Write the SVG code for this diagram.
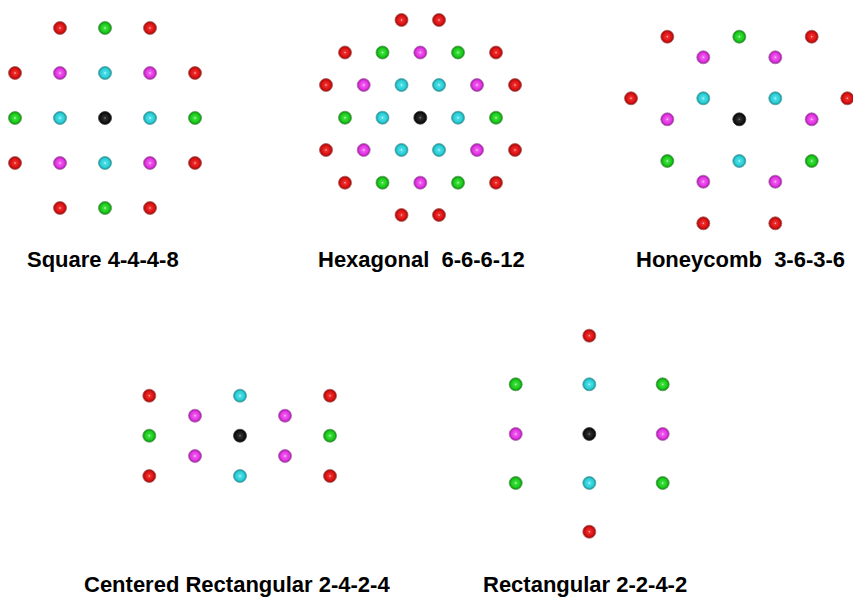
<svg xmlns="http://www.w3.org/2000/svg" xmlns:xlink="http://www.w3.org/1999/xlink" width="853" height="599" viewBox="0 0 853 599">
<style>
text{font-family:"Liberation Sans",Arial,sans-serif;font-weight:bold;font-size:22px;fill:#000}
.ball{stroke-width:0.8}
</style>
<defs>
<radialGradient id="gR" cx="50%" cy="50%" r="50%"><stop offset="0" stop-color="#ffd0d0"/><stop offset="0.18" stop-color="#f03030"/><stop offset="0.7" stop-color="#d81010"/><stop offset="1" stop-color="#8a0808"/></radialGradient>
<radialGradient id="gG" cx="50%" cy="50%" r="50%"><stop offset="0" stop-color="#e0ffe0"/><stop offset="0.18" stop-color="#40e040"/><stop offset="0.7" stop-color="#18c818"/><stop offset="1" stop-color="#0a7a0a"/></radialGradient>
<radialGradient id="gM" cx="50%" cy="50%" r="50%"><stop offset="0" stop-color="#ffe0ff"/><stop offset="0.18" stop-color="#f060f0"/><stop offset="0.7" stop-color="#e030e0"/><stop offset="1" stop-color="#901890"/></radialGradient>
<radialGradient id="gC" cx="50%" cy="50%" r="50%"><stop offset="0" stop-color="#e0ffff"/><stop offset="0.18" stop-color="#50e0e8"/><stop offset="0.7" stop-color="#28ccd4"/><stop offset="1" stop-color="#12848a"/></radialGradient>
<radialGradient id="gK" cx="50%" cy="50%" r="50%"><stop offset="0" stop-color="#909090"/><stop offset="0.18" stop-color="#303030"/><stop offset="0.7" stop-color="#141414"/><stop offset="1" stop-color="#000"/></radialGradient>
<circle id="R" class="ball" r="6.5" fill="url(#gR)" stroke="#b06060"/>
<circle id="G" class="ball" r="6.5" fill="url(#gG)" stroke="#60a060"/>
<circle id="M" class="ball" r="6.5" fill="url(#gM)" stroke="#b070b0"/>
<circle id="C" class="ball" r="6.5" fill="url(#gC)" stroke="#60a8a8"/>
<circle id="K" class="ball" r="6.5" fill="url(#gK)" stroke="#404040"/>
</defs>
<rect width="853" height="599" fill="#fff"/>

<g id="square">
<use href="#R" x="60" y="28"/><use href="#G" x="105" y="28"/><use href="#R" x="150" y="28"/>
<use href="#R" x="15" y="73"/><use href="#M" x="60" y="73"/><use href="#C" x="105" y="73"/><use href="#M" x="150" y="73"/><use href="#R" x="195" y="73"/>
<use href="#G" x="15" y="118"/><use href="#C" x="60" y="118"/><use href="#K" x="105" y="118"/><use href="#C" x="150" y="118"/><use href="#G" x="195" y="118"/>
<use href="#R" x="15" y="163"/><use href="#M" x="60" y="163"/><use href="#C" x="105" y="163"/><use href="#M" x="150" y="163"/><use href="#R" x="195" y="163"/>
<use href="#R" x="60" y="208"/><use href="#G" x="105" y="208"/><use href="#R" x="150" y="208"/>
<text x="27" y="267">Square 4-4-4-8</text>
</g>

<g id="hexagonal">
<use href="#R" x="401.5" y="20"/><use href="#R" x="439" y="20"/>
<use href="#R" x="345" y="52.5"/><use href="#G" x="382.5" y="52.5"/><use href="#M" x="420.3" y="52.5"/><use href="#G" x="458" y="52.5"/><use href="#R" x="496" y="52.5"/>
<use href="#R" x="326" y="85"/><use href="#M" x="363.7" y="85"/><use href="#C" x="401.5" y="85"/><use href="#C" x="439" y="85"/><use href="#M" x="477" y="85"/><use href="#R" x="515" y="85"/>
<use href="#G" x="345" y="117.7"/><use href="#C" x="382.5" y="117.7"/><use href="#K" x="420.3" y="117.7"/><use href="#C" x="458" y="117.7"/><use href="#G" x="496" y="117.7"/>
<use href="#R" x="326" y="150"/><use href="#M" x="363.7" y="150"/><use href="#C" x="401.5" y="150"/><use href="#C" x="439" y="150"/><use href="#M" x="477" y="150"/><use href="#R" x="515" y="150"/>
<use href="#R" x="345" y="182.7"/><use href="#G" x="382.5" y="182.7"/><use href="#M" x="420.3" y="182.7"/><use href="#G" x="458" y="182.7"/><use href="#R" x="496" y="182.7"/>
<use href="#R" x="401.5" y="215"/><use href="#R" x="439" y="215"/>
<text x="318" y="267" xml:space="preserve">Hexagonal  6-6-6-12</text>
</g>

<g id="honeycomb">
<use href="#R" x="667.3" y="36.7"/><use href="#G" x="739.3" y="36.7"/><use href="#R" x="811.7" y="36.7"/>
<use href="#M" x="703.3" y="57.3"/><use href="#M" x="775.3" y="57.3"/>
<use href="#R" x="631" y="98.3"/><use href="#C" x="703.3" y="98.3"/><use href="#C" x="775.3" y="98.3"/><use href="#R" x="847.3" y="98.3"/>
<use href="#M" x="667.3" y="119.3"/><use href="#K" x="739.3" y="119.3"/><use href="#M" x="811.7" y="119.3"/>
<use href="#G" x="667.3" y="161"/><use href="#C" x="739.3" y="161"/><use href="#G" x="811.7" y="161"/>
<use href="#M" x="703.3" y="181.7"/><use href="#M" x="775.3" y="181.7"/>
<use href="#R" x="703.3" y="223.3"/><use href="#R" x="775.3" y="223.3"/>
<text x="636" y="267" xml:space="preserve">Honeycomb  3-6-3-6</text>
</g>

<g id="centered-rectangular">
<use href="#R" x="149.3" y="395.7"/><use href="#C" x="240" y="395.7"/><use href="#R" x="330" y="395.7"/>
<use href="#M" x="195" y="415.7"/><use href="#M" x="285" y="415.7"/>
<use href="#G" x="149.3" y="435.7"/><use href="#K" x="240" y="435.7"/><use href="#G" x="330" y="435.7"/>
<use href="#M" x="195" y="456"/><use href="#M" x="285" y="456"/>
<use href="#R" x="149.3" y="476"/><use href="#C" x="240" y="476"/><use href="#R" x="330" y="476"/>
<text x="84" y="592">Centered Rectangular 2-4-2-4</text>
</g>

<g id="rectangular">
<use href="#R" x="589.3" y="335.7"/>
<use href="#G" x="515.7" y="384.3"/><use href="#C" x="589.3" y="384.3"/><use href="#G" x="662.7" y="384.3"/>
<use href="#M" x="515.7" y="434"/><use href="#K" x="589.3" y="434"/><use href="#M" x="662.7" y="434"/>
<use href="#G" x="515.7" y="483"/><use href="#C" x="589.3" y="483"/><use href="#G" x="662.7" y="483"/>
<use href="#R" x="589.3" y="531.7"/>
<text x="483" y="592">Rectangular 2-2-4-2</text>
</g>
<g id="connectors"/>
</svg>
